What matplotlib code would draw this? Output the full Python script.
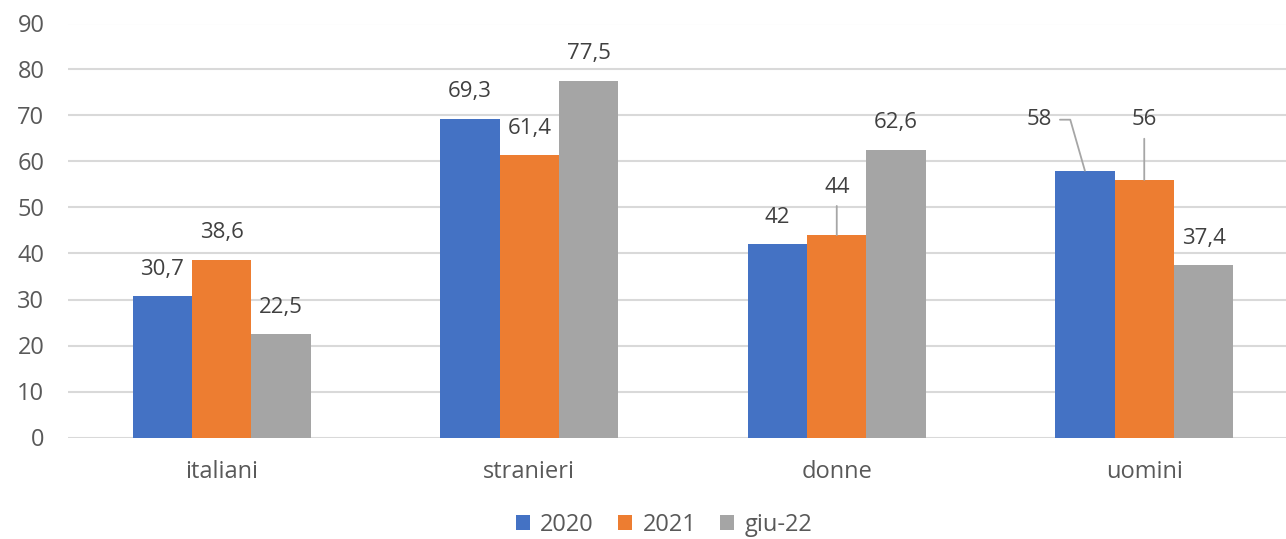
import matplotlib
matplotlib.use("Agg")
import matplotlib.pyplot as plt
import numpy as np

plt.rcParams['font.family'] = ['Open Sans', 'DejaVu Sans']

categories = ["italiani", "stranieri", "donne", "uomini"]
series_names = ["2020", "2021", "giu-22"]
v2020 = [30.7, 69.3, 42, 58]
v2021 = [38.6, 61.4, 44, 56]
vgiu22 = [22.5, 77.5, 62.6, 37.4]
colors = ["#4472C4", "#ED7D31", "#A5A5A5"]

def fmt(v):
    s = ("%.1f" % v).rstrip("0").rstrip(".")
    return s.replace(".", ",")

fig = plt.figure(figsize=(12.86, 5.39), dpi=100)
W, H = 1286, 539
ax = fig.add_axes([68 / W, 1 - 437.5 / H, (1298 - 68) / W, (437.5 - 23.5) / H])

x = np.arange(len(categories))
bw = 0.193
all_vals = [v2020, v2021, vgiu22]

# label offsets in pixels (default above the bar), a few with leader lines
leaders = {(2, 1): (0, 48, None),
           (3, 0): (-46, 51, "angle,angleA=0,angleB=106,rad=0"),
           (3, 1): (0, 60, None)}

for i, (vals, name, col) in enumerate(zip(all_vals, series_names, colors)):
    xs = x + (i - 1) * bw
    ax.bar(xs, vals, width=bw, color=col, label=name, zorder=3, edgecolor="none")
    for j, (xx, v) in enumerate(zip(xs, vals)):
        if (j, i) in leaders:
            dx, dy, cs = leaders[(j, i)]
            ap = dict(arrowstyle="-", color="#A6A6A6", lw=1.3,
                      shrinkA=4, shrinkB=0)
            if cs:
                ap["connectionstyle"] = cs
            ax.annotate(fmt(v), xy=(xx, v), xytext=(dx, dy),
                        textcoords="offset pixels", ha="center", va="center",
                        fontsize=16, color="#404040", arrowprops=ap, zorder=4)
        else:
            ax.annotate(fmt(v), xy=(xx, v), xytext=(0, 27),
                        textcoords="offset pixels", ha="center", va="center",
                        fontsize=16, color="#404040", zorder=4)

ax.set_xlim(-0.5, 3.5)
ax.set_ylim(0, 90)
ax.set_yticks(range(0, 91, 10))
ax.set_xticks(x)
ax.set_xticklabels(categories)
ax.yaxis.grid(True, color="#D9D9D9", lw=1.5, zorder=0)
ax.set_axisbelow(True)
for s in ax.spines.values():
    s.set_visible(False)
ax.tick_params(axis="y", length=0, pad=17, labelsize=17, labelcolor="#595959")
ax.tick_params(axis="x", length=0, pad=16, labelsize=17, labelcolor="#595959")

leg = fig.legend(loc="center", bbox_to_anchor=(664 / W, 1 - 525 / H), ncol=3,
                 frameon=False, fontsize=17, handlelength=0.6, handleheight=0.6,
                 handletextpad=0.45, columnspacing=1.0)
for t in leg.get_texts():
    t.set_color("#595959")

fig.savefig("out.png", dpi=100)
